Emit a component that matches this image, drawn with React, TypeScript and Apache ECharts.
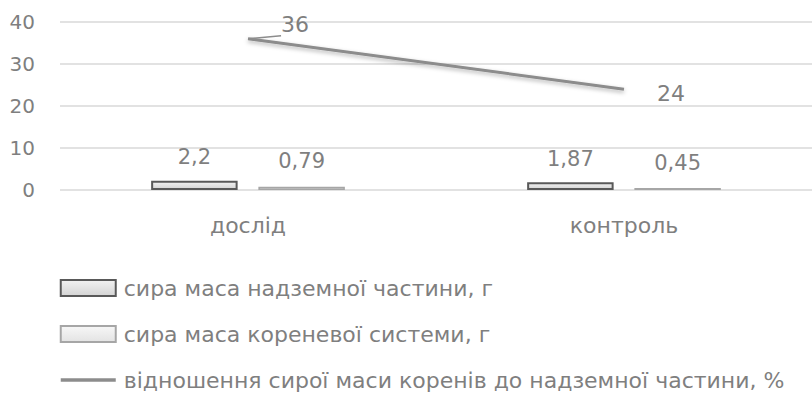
import React, { useEffect, useRef } from "react";
import * as echarts from "echarts";

const categories = ["дослід", "контроль"];
const seriesNames = [
  "сира маса надземної частини, г",
  "сира маса кореневої системи, г",
  "відношення сирої маси коренів до надземної частини, %",
];
const shootMass = [2.2, 1.87];
const rootMass = [0.79, 0.45];
const ratio = [36, 24];
const yTicks = { min: 0, max: 40, interval: 10 };

const FONT = "'DejaVu Sans', 'Noto Sans', sans-serif";
const GRAY = "#7f7f7f";
const fmt = (v: number) => String(v).replace(".", ",");

export default function App() {
  const ref = useRef<HTMLDivElement>(null);
  useEffect(() => {
    document.body.style.margin = "0";
    const chart = echarts.init(ref.current!, null, { renderer: "svg" });
    chart.setOption({
      animation: false,
      backgroundColor: "#ffffff",
      textStyle: { fontFamily: FONT, color: GRAY },
      grid: { left: 60, right: 0, top: 22, bottom: 212, containLabel: false },
      xAxis: {
        type: "category",
        data: categories,
        axisLine: { show: false },
        axisTick: { show: false },
        axisLabel: { color: GRAY, fontSize: 22, fontFamily: FONT, margin: 24 },
      },
      yAxis: {
        type: "value",
        min: yTicks.min,
        max: yTicks.max,
        interval: yTicks.interval,
        axisLine: { show: false },
        axisTick: { show: false },
        axisLabel: { color: GRAY, fontSize: 20, fontFamily: FONT, margin: 25 },
        splitLine: { lineStyle: { color: "#d9d9d9", width: 1.5 } },
      },
      legend: {
        orient: "vertical",
        left: 54,
        top: 272,
        itemWidth: 55,
        itemHeight: 16,
        itemGap: 24,
        textStyle: { color: GRAY, fontSize: 22, fontFamily: FONT, padding: [0, 0, 0, 3] },
        data: [
          { name: seriesNames[0], icon: "rect" },
          { name: seriesNames[1], icon: "rect" },
          {
            name: seriesNames[2],
            itemStyle: { opacity: 0 },
            lineStyle: { width: 3.5, color: "#8c8c8c" },
          },
        ],
      },
      series: [
        {
          name: seriesNames[0],
          type: "bar",
          data: shootMass,
          barWidth: "23%",
          barGap: "24%",
          itemStyle: {
            color: new echarts.graphic.LinearGradient(0, 0, 0, 1, [
              { offset: 0, color: "#f2f2f2" },
              { offset: 1, color: "#d4d4d4" },
            ]),
            borderColor: "#595959",
            borderWidth: 2,
          },
          label: {
            show: true,
            position: "top",
            distance: 13,
            color: GRAY,
            fontSize: 21,
            fontFamily: FONT,
            formatter: (p: any) => fmt(p.value),
          },
        },
        {
          name: seriesNames[1],
          type: "bar",
          data: rootMass,
          barWidth: "23%",
          itemStyle: {
            color: new echarts.graphic.LinearGradient(0, 0, 0, 1, [
              { offset: 0, color: "#f7f7f7" },
              { offset: 1, color: "#e3e3e3" },
            ]),
            borderColor: "#a6a6a6",
            borderWidth: 1.5,
          },
          label: {
            show: true,
            position: "top",
            distance: 15,
            color: GRAY,
            fontSize: 21,
            fontFamily: FONT,
            formatter: (p: any) => fmt(p.value),
          },
        },
        {
          name: seriesNames[2],
          type: "line",
          data: [
            {
              value: ratio[0],
              label: {
                show: true,
                position: "right",
                offset: [28, -14],
              },
              labelLine: { show: true, lineStyle: { color: "#8c8c8c", width: 1.5 } },
            },
            {
              value: ratio[1],
              label: { show: true, position: "right", offset: [28, 4] },
            },
          ],
          symbol: "circle",
          symbolSize: 0.1,
          showSymbol: true,
          lineStyle: {
            color: "#8c8c8c",
            width: 3,
            shadowBlur: 4,
            shadowColor: "rgba(0,0,0,0.3)",
            shadowOffsetY: 2,
          },
          itemStyle: { color: "#8c8c8c" },
          label: {
            show: true,
            color: GRAY,
            fontSize: 22,
            fontFamily: FONT,
          },
        },
      ],
    });
    return () => chart.dispose();
  }, []);
  return <div ref={ref} style={{ width: 812, height: 402 }} />;
}
